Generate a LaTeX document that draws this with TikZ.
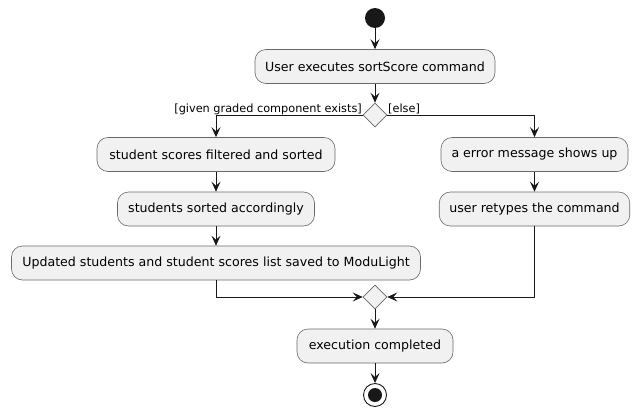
\documentclass[tikz,border=0pt]{standalone}
\usepackage{fontspec}
\setmainfont{DejaVu Sans}
\usetikzlibrary{arrows.meta,shapes.geometric}
\definecolor{boxfill}{HTML}{F1F1F1}
\definecolor{ink}{HTML}{181818}
\tikzset{
  act/.style={draw=ink!65,line width=0.6pt,fill=boxfill,rounded corners=11pt,minimum height=34pt,inner xsep=10pt,font=\fontsize{12.6}{14}\selectfont,anchor=center},
  decision/.style={draw=ink!65,line width=0.6pt,fill=boxfill,diamond,minimum width=24pt,minimum height=24pt,inner sep=0pt,aspect=1},
  flow/.style={draw=ink,line width=0.9pt,-{Stealth[length=10pt,width=9pt,inset=4pt]}},
  guard/.style={font=\fontsize{11.3}{13}\selectfont,inner sep=0pt}
}
\begin{document}
\begin{tikzpicture}[x=1pt,y=-1pt]
\useasboundingbox[fill=white] (0,0) rectangle (639,415);
\node[circle,fill=ink,minimum size=20pt,inner sep=0pt] (start) at (375,18) {};
\node[act,minimum width=240pt] (a1) at (375,66.5) {User executes sortScore command};
\node[decision] (d1) at (375,115) {};
\node[act,minimum width=238pt] (l1) at (216,154.5) {student scores filtered and sorted};
\node[act,minimum width=197pt] (l2) at (216,209) {students sorted accordingly};
\node[act,minimum width=409pt] (l3) at (216,263) {Updated students and student scores list saved to ModuLight};
\node[act,minimum width=187pt] (r1) at (534.5,154.5) {a error message shows up};
\node[act,minimum width=189pt] (r2) at (534.5,209) {user retypes the command};
\node[decision] (d2) at (375,297) {};
\node[act,minimum width=156pt] (e) at (375,346) {execution completed};
\node[circle,draw=ink,line width=0.9pt,fill=white,minimum size=23pt,inner sep=0pt] (stop) at (375,395) {};
\node[circle,fill=ink,minimum size=14pt,inner sep=0pt] at (stop) {};
\coordinate (lt) at (216,115);
\coordinate (rt) at (534.5,115);
\coordinate (lb) at (216,297);
\coordinate (rb) at (534.5,297);
\path[flow] (start) -- (a1);
\path[flow] (a1) -- (d1);
\path[flow] (d1.west) -- (lt) -- (l1.north);
\path[flow] (d1.east) -- (rt) -- (r1.north);
\path[flow] (l1) -- (l2);
\path[flow] (l2) -- (l3);
\path[flow] (r1) -- (r2);
\path[flow] (l3.south -| lb) -- (lb) -- (d2.west);
\path[flow] (r2.south) -- (rb) -- (d2.east);
\path[flow] (d2) -- (e);
\path[flow] (e) -- (stop);
\node[guard,anchor=base east] (g1) at (362,112) {[given graded component exists]};
\node[guard,anchor=base west] (g2) at (388,112) {[else]};
\end{tikzpicture}
\end{document}
